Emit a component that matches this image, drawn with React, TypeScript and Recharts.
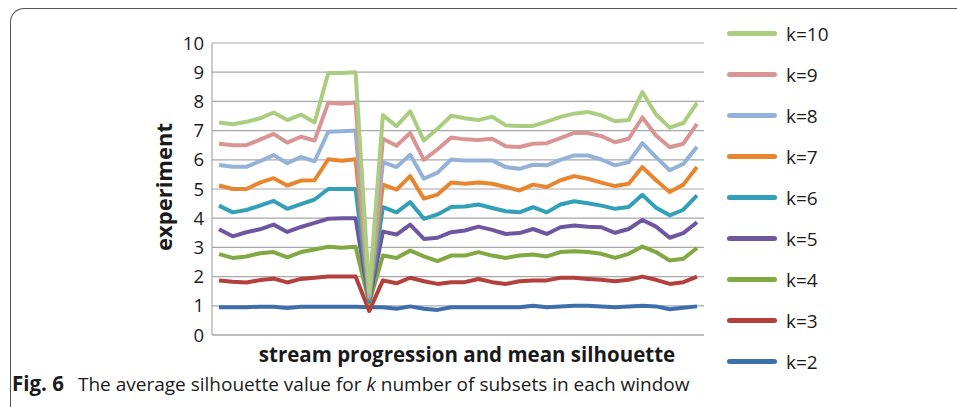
import React from 'react';
import {
  LineChart,
  Line,
  XAxis,
  YAxis,
  CartesianGrid,
  Label,
} from 'recharts';

// window index along the stream
const windows = Array.from({ length: 36 }, (_, i) => i + 1);

const k2 = [0.95, 0.95, 0.95, 0.97, 0.97, 0.92, 0.97, 0.97, 0.97, 0.97, 0.97, 0.95, 0.95, 0.9, 0.98, 0.9, 0.86, 0.95, 0.95, 0.95, 0.95, 0.95, 0.95, 1.0, 0.95, 0.98, 1.0, 1.0, 0.98, 0.95, 0.98, 1.0, 0.98, 0.88, 0.93, 0.98];
const k3 = [1.87, 1.82, 1.8, 1.88, 1.93, 1.8, 1.92, 1.96, 2.0, 2.0, 2.0, 0.82, 1.87, 1.77, 1.96, 1.84, 1.75, 1.81, 1.81, 1.92, 1.81, 1.75, 1.84, 1.87, 1.87, 1.96, 1.96, 1.92, 1.89, 1.84, 1.89, 2.0, 1.89, 1.75, 1.81, 2.0];
const k4 = [2.77, 2.64, 2.69, 2.8, 2.84, 2.66, 2.84, 2.93, 3.02, 2.99, 3.02, 1.1, 2.72, 2.64, 2.89, 2.69, 2.53, 2.72, 2.72, 2.84, 2.72, 2.64, 2.72, 2.76, 2.69, 2.84, 2.87, 2.84, 2.78, 2.64, 2.78, 3.03, 2.84, 2.55, 2.61, 2.98];
const k5 = [3.62, 3.38, 3.52, 3.62, 3.78, 3.53, 3.7, 3.84, 3.98, 4.0, 4.0, 1.15, 3.54, 3.44, 3.78, 3.29, 3.33, 3.52, 3.58, 3.71, 3.6, 3.46, 3.49, 3.63, 3.46, 3.69, 3.75, 3.71, 3.69, 3.5, 3.63, 3.94, 3.71, 3.33, 3.49, 3.86];
const k6 = [4.43, 4.2, 4.28, 4.43, 4.59, 4.32, 4.48, 4.64, 5.0, 5.0, 5.0, 1.2, 4.38, 4.2, 4.55, 3.98, 4.13, 4.38, 4.4, 4.47, 4.35, 4.24, 4.2, 4.38, 4.2, 4.47, 4.58, 4.51, 4.43, 4.32, 4.38, 4.8, 4.36, 4.1, 4.29, 4.78];
const k7 = [5.12, 5.0, 5.0, 5.22, 5.37, 5.12, 5.29, 5.3, 6.02, 5.97, 6.02, 1.28, 5.15, 4.98, 5.44, 4.67, 4.81, 5.22, 5.18, 5.22, 5.18, 5.07, 4.95, 5.15, 5.07, 5.3, 5.44, 5.35, 5.22, 5.1, 5.18, 5.75, 5.3, 4.9, 5.15, 5.75];
const k8 = [5.82, 5.76, 5.76, 5.95, 6.16, 5.88, 6.1, 5.95, 6.96, 6.98, 7.0, 1.33, 5.92, 5.75, 6.17, 5.35, 5.56, 6.01, 5.98, 5.98, 5.98, 5.75, 5.69, 5.83, 5.81, 6.0, 6.15, 6.15, 6.01, 5.81, 5.92, 6.57, 6.09, 5.64, 5.86, 6.45];
const k9 = [6.55, 6.5, 6.5, 6.69, 6.89, 6.59, 6.79, 6.66, 7.95, 7.92, 7.96, 1.4, 6.72, 6.48, 6.92, 6.0, 6.36, 6.76, 6.7, 6.68, 6.72, 6.46, 6.44, 6.55, 6.57, 6.74, 6.92, 6.92, 6.81, 6.6, 6.72, 7.45, 6.83, 6.43, 6.55, 7.23];
const k10 = [7.28, 7.22, 7.3, 7.42, 7.62, 7.36, 7.55, 7.28, 8.97, 8.97, 9.0, 1.45, 7.53, 7.15, 7.66, 6.66, 7.06, 7.51, 7.42, 7.36, 7.48, 7.18, 7.16, 7.16, 7.31, 7.47, 7.58, 7.64, 7.52, 7.32, 7.36, 8.32, 7.55, 7.1, 7.26, 7.95];

const yTicks = [0, 1, 2, 3, 4, 5, 6, 7, 8, 9, 10];

const series = [
  { key: 'k=2', values: k2, color: '#3e6fad' },
  { key: 'k=3', values: k3, color: '#b3403d' },
  { key: 'k=4', values: k4, color: '#82a842' },
  { key: 'k=5', values: k5, color: '#6f56a0' },
  { key: 'k=6', values: k6, color: '#33a0b9' },
  { key: 'k=7', values: k7, color: '#e8852f' },
  { key: 'k=8', values: k8, color: '#94b2d8' },
  { key: 'k=9', values: k9, color: '#d99593' },
  { key: 'k=10', values: k10, color: '#abcd80' },
];

const data = windows.map((w, i) => {
  const row: Record<string, number> = { w };
  series.forEach((s) => {
    row[s.key] = s.values[i];
  });
  return row;
});

const FONT = '"Open Sans", "Noto Sans", sans-serif';

function SideLegend() {
  const items = [...series].reverse();
  return (
    <div style={{ position: 'absolute', left: 727, top: 13, fontFamily: FONT }}>
      {items.map((it) => (
        <div key={it.key} style={{ display: 'flex', alignItems: 'center', height: 41 }}>
          <div style={{ width: 50, height: 5, borderRadius: 3, background: it.color, marginRight: 9 }} />
          <span style={{ fontSize: 19, color: '#1a1a1a' }}>{it.key}</span>
        </div>
      ))}
    </div>
  );
}

export default function App() {
  return (
    <div style={{ position: 'absolute', left: 0, top: 0, width: 957, height: 407, overflow: 'hidden', background: '#fff' }}>
      <div
        style={{
          position: 'absolute',
          left: 10,
          top: 8,
          width: 980,
          height: 430,
          borderLeft: '1.5px solid #555',
          borderTop: '1.5px solid #555',
          borderTopLeftRadius: 14,
        }}
      />
      <LineChart
        width={957}
        height={407}
        data={data}
        margin={{ top: 43, right: 253, bottom: 42, left: 150 }}
        style={{ position: 'absolute', left: 0, top: 0 }}
      >
        <CartesianGrid vertical={false} stroke="#a8a8a8" strokeWidth={1.2} />
        <XAxis
          dataKey="w"
          height={30}
          tick={false}
          tickLine={false}
          axisLine={{ stroke: '#a8a8a8', strokeWidth: 1.2 }}
          padding={{ left: 7, right: 7 }}
        >
          <Label
            content={() => (
              <text x={467} y={362} textAnchor="middle" fontFamily={FONT} fontWeight={700} fontSize={20.5} fill="#1a1a1a">
                stream progression and mean silhouette
              </text>
            )}
          />
        </XAxis>
        <YAxis
          domain={[0, 10]}
          ticks={yTicks}
          interval={0}
          width={62}
          tickLine={false}
          axisLine={{ stroke: '#a8a8a8', strokeWidth: 1.2 }}
          tick={{ fontFamily: FONT, fontSize: 18.5, fill: '#1a1a1a' }}
        >
          <Label
            content={() => (
              <text
                x={172}
                y={187}
                transform="rotate(-90 172 187)"
                textAnchor="middle"
                fontFamily={FONT}
                fontWeight={700}
                fontSize={22}
                fill="#1a1a1a"
              >
                experiment
              </text>
            )}
          />
        </YAxis>
        {series.map((s) => (
          <Line
            key={s.key}
            type="linear"
            dataKey={s.key}
            name={s.key}
            stroke={s.color}
            strokeWidth={4}
            strokeLinejoin="round"
            dot={false}
            activeDot={false}
            isAnimationActive={false}
          />
        ))}
      </LineChart>
      <SideLegend />
      <div
        style={{
          position: 'absolute',
          left: 12,
          top: 369,
          fontFamily: FONT,
          fontSize: 19,
          color: '#1a1a1a',
          whiteSpace: 'nowrap',
        }}
      >
        <b style={{ fontSize: 20.5 }}>Fig. 6</b>
        <span style={{ marginLeft: 14 }}>
          The average silhouette value for <i>k</i> number of subsets in each window
        </span>
      </div>
    </div>
  );
}
